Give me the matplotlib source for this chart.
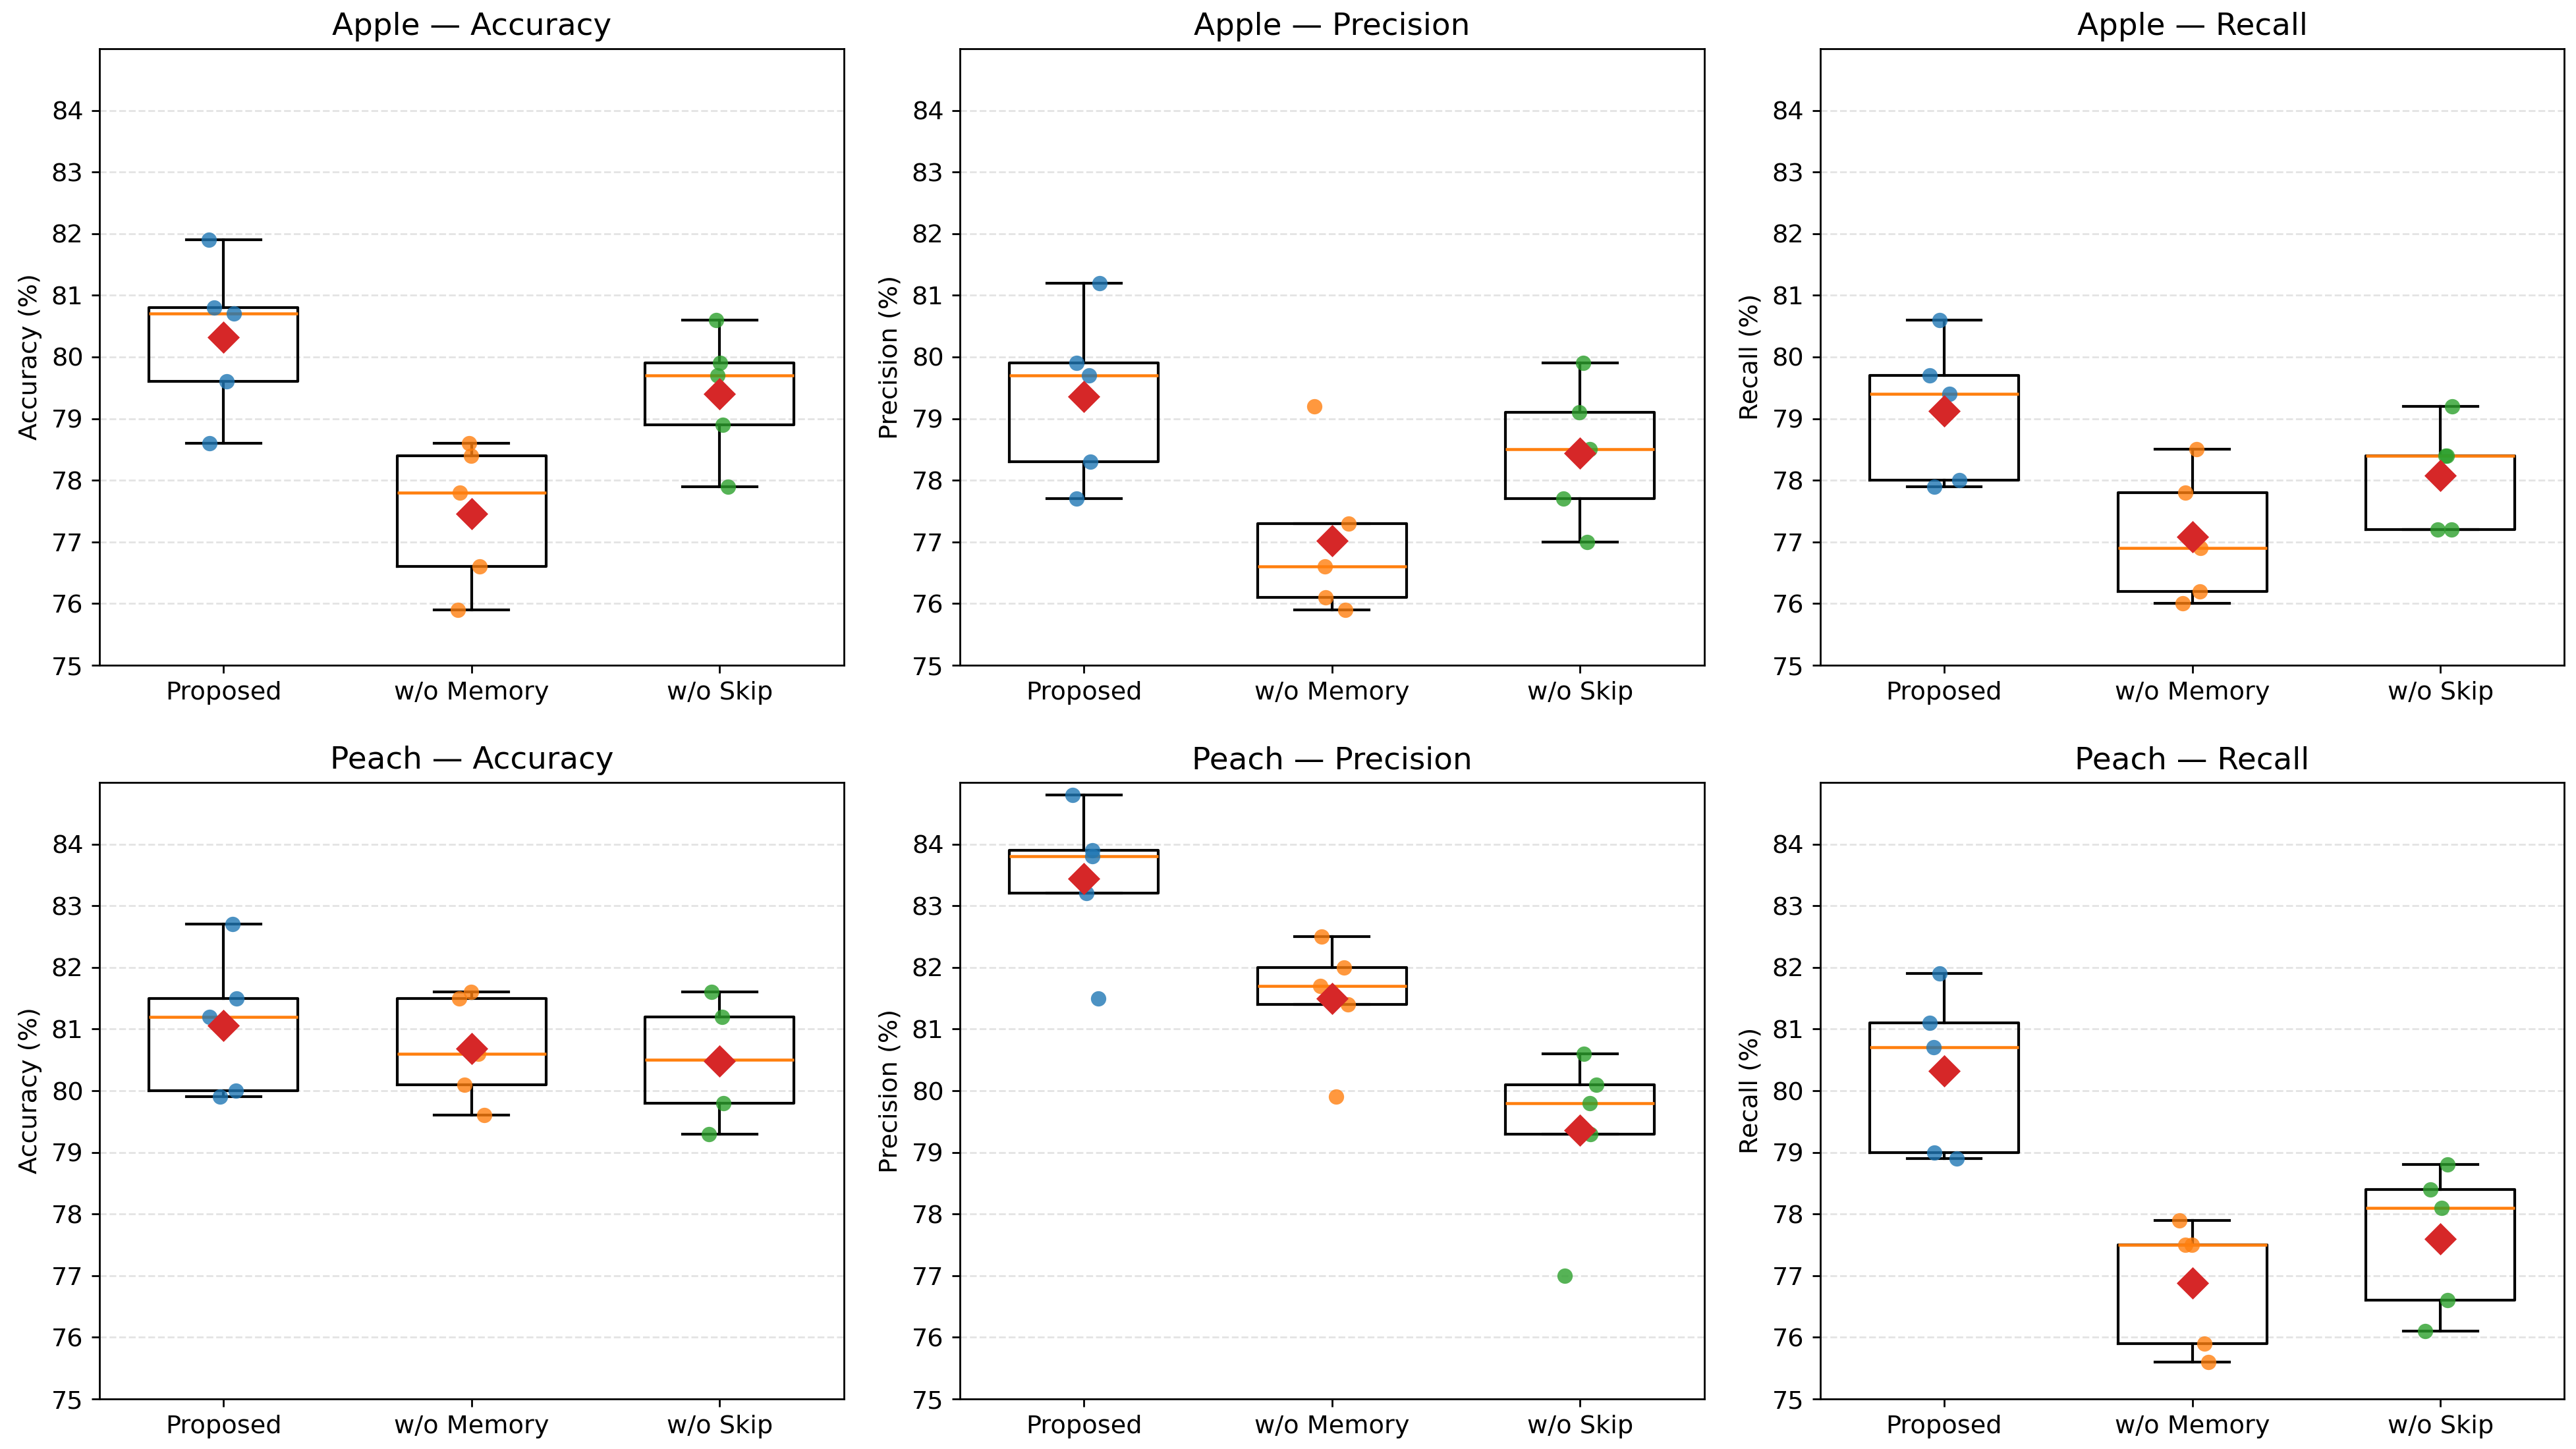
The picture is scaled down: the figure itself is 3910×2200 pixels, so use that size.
import numpy as np
import matplotlib
matplotlib.use('Agg')
import matplotlib.pyplot as plt

fruits = ['Apple', 'Peach']
metrics = ['Accuracy', 'Precision', 'Recall']
variants = ['Proposed', 'w/o Memory', 'w/o Skip']
y_ticks = list(range(75, 85))

# five runs per variant
apple_accuracy = [
    [81.9, 80.8, 80.7, 79.6, 78.6],
    [78.6, 78.4, 77.8, 76.6, 75.9],
    [80.6, 79.9, 79.7, 78.9, 77.9],
]
apple_precision = [
    [81.2, 79.9, 79.7, 78.3, 77.7],
    [79.2, 77.3, 76.6, 76.1, 75.9],
    [79.9, 79.1, 78.5, 77.7, 77.0],
]
apple_recall = [
    [80.6, 79.7, 79.4, 78.0, 77.9],
    [78.5, 77.8, 76.9, 76.2, 76.0],
    [79.2, 78.4, 78.4, 77.2, 77.2],
]
peach_accuracy = [
    [82.7, 81.5, 81.2, 80.0, 79.9],
    [81.6, 81.5, 80.6, 80.1, 79.6],
    [81.6, 81.2, 80.5, 79.8, 79.3],
]
peach_precision = [
    [84.8, 83.9, 83.8, 83.2, 81.5],
    [82.5, 82.0, 81.7, 81.4, 79.9],
    [80.6, 80.1, 79.8, 79.3, 77.0],
]
peach_recall = [
    [81.9, 81.1, 80.7, 79.0, 78.9],
    [77.9, 77.5, 77.5, 75.9, 75.6],
    [78.8, 78.4, 78.1, 76.6, 76.1],
]

results = {
    ('Apple', 'Accuracy'): apple_accuracy,
    ('Apple', 'Precision'): apple_precision,
    ('Apple', 'Recall'): apple_recall,
    ('Peach', 'Accuracy'): peach_accuracy,
    ('Peach', 'Precision'): peach_precision,
    ('Peach', 'Recall'): peach_recall,
}

point_colors = ['tab:blue', 'tab:orange', 'tab:green']
rng = np.random.default_rng(3)

fig, axes = plt.subplots(2, 3, figsize=(15.64, 8.8), dpi=250)
fig.subplots_adjust(left=0.0386, right=0.9955, top=0.9664, bottom=0.0345,
                    wspace=0.156, hspace=0.19)

for i, fruit in enumerate(fruits):
    for j, metric in enumerate(metrics):
        ax = axes[i, j]
        groups = results[(fruit, metric)]
        positions = np.arange(1, len(variants) + 1)

        ax.boxplot(groups, positions=positions, widths=0.6, showfliers=False,
                   boxprops=dict(color='black', linewidth=1.2),
                   whiskerprops=dict(color='black', linewidth=1.2),
                   capprops=dict(color='black', linewidth=1.2),
                   medianprops=dict(color='tab:orange', linewidth=1.3))

        for k, vals in enumerate(groups):
            jitter = rng.uniform(-0.07, 0.07, len(vals))
            ax.scatter(positions[k] + jitter, vals, s=45, color=point_colors[k],
                       alpha=0.8, zorder=3, linewidths=0)
            ax.scatter(positions[k], np.mean(vals), marker='D', s=100,
                       color='tab:red', zorder=4, linewidths=0)

        ax.set_xticks(positions)
        ax.set_xticklabels(variants, fontsize=11)
        ax.set_ylim(75, 85)
        ax.set_yticks(y_ticks)
        ax.tick_params(axis='y', labelsize=11)
        ax.set_ylabel(f'{metric} (%)', fontsize=11)
        ax.set_title(f'{fruit} — {metric}', fontsize=13.5)
        ax.grid(axis='y', linestyle='--', alpha=0.35)
        ax.set_axisbelow(True)

fig.savefig('out.png', dpi=250)
